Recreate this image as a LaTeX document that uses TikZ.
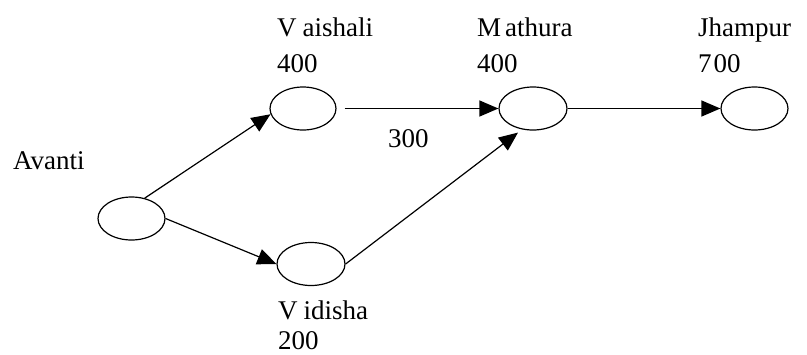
\documentclass[tikz,border=0pt]{standalone}
\usepackage{fontspec}
\setmainfont{Liberation Serif}
\usetikzlibrary{shapes.geometric,arrows.meta}
\tikzset{
  evt/.style={ellipse,draw,line width=1.2pt,minimum width=67pt,minimum height=43pt,inner sep=0pt},
  lbl/.style={anchor=base west,inner sep=0pt,font=\fontsize{27}{31}\selectfont},
  conn/.style={line width=1.2pt,-{Triangle[length=19pt,width=16pt]}}
}
\begin{document}
\begin{tikzpicture}[x=1pt,y=-1pt]
\useasboundingbox (0,0) rectangle (807,354);
\node[evt] (A) at (131.5,218.5) {};
\node[evt,minimum width=66pt] (Vai) at (303,108.5) {};
\node[evt,minimum width=68pt] (Vid) at (311,264) {};
\node[evt,minimum width=68pt] (M) at (533,108.5) {};
\node[evt] (J) at (754.5,108.5) {};

\node[lbl] (tA) at (13,169) {Avanti};
\node[lbl] (tVai) at (277,36) {V\kern6pt aishali};
\node[lbl] (nVai) at (277,72) {400};
\node[lbl] (tM) at (477,36) {M\kern4pt athura};
\node[lbl] (nM) at (477,72) {400};
\node[lbl] (tJ) at (698,36) {Jhampur};
\node[lbl] (nJ) at (698,72) {7\kern2pt 00};
\node[lbl] (w) at (388,147) {300};
\node[lbl] (tVid) at (278,319) {V\kern6pt idisha};
\node[lbl] (nVid) at (278,349) {200};

\coordinate (mtip) at ([xshift=-15pt,yshift=-2pt]M.south);
\draw[conn] (A.57) -- (Vai.190);
\draw[conn] (A.east) -- (Vid.west);
\draw[conn,shorten <=8pt] (Vai.east) -- (M.west);
\draw[conn] (Vid.east) -- (mtip);
\draw[conn] (M.east) -- (J.west);
\end{tikzpicture}
\end{document}
